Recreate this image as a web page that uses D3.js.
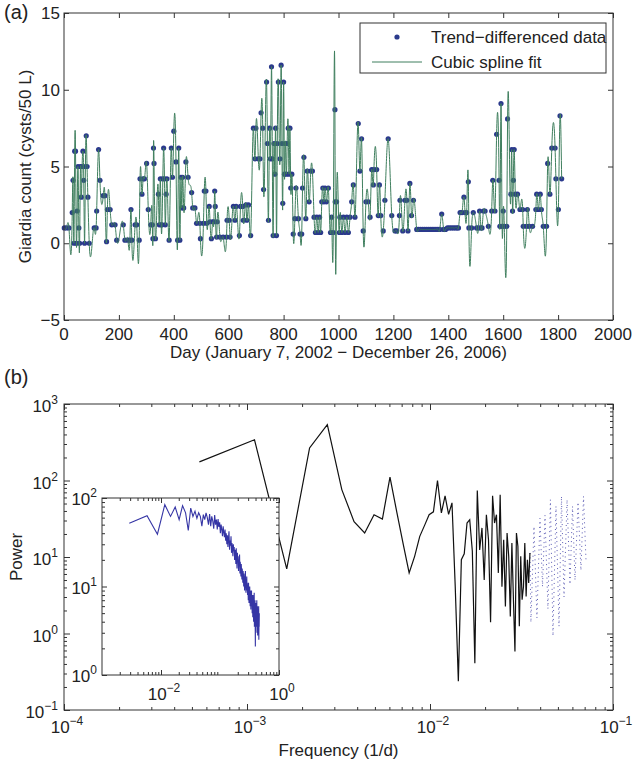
<!DOCTYPE html>
<html lang="en">
  <head>
    <meta charset="utf-8" />
    <title>Giardia count and periodogram</title>
    <script type="text/javascript" src="https://d3js.org/d3.v7.min.js"></script>
    <style>
      body { margin: 0; background: #fff; }
      text { font-family: "Liberation Sans", Arial, Helvetica, sans-serif; fill: #222; }
    </style>
  </head>
  <body>
    <div id="graph"></div>

    <script type="text/javascript">
      /***************
       * data
       ***************/

      // panel (a): trend-differenced Giardia counts (day, cysts/50 L)
      const days = [
        1, 9, 18, 30, 33, 36, 39, 42, 45, 48,
        51, 54, 57, 60, 63, 66, 69, 72, 75, 78,
        81, 84, 87, 92, 110, 117, 119, 126, 131, 143,
        149, 155, 158, 168, 174, 186, 192, 216, 222, 233,
        240, 244, 247, 259, 265, 274, 277, 284, 288, 293,
        301, 307, 316, 322, 324, 326, 328, 333, 344, 347,
        351, 354, 357, 360, 363, 366, 369, 372, 375, 383,
        391, 395, 400, 408, 414, 418, 422, 426, 429, 432,
        436, 444, 452, 465, 469, 477, 483, 495, 497, 508,
        511, 517, 520, 529, 532, 537, 542, 546, 549, 551,
        556, 558, 568, 580, 592, 594, 602, 605, 617, 623,
        627, 639, 643, 651, 653, 663, 666, 672, 680, 690,
        696, 699, 708, 714, 718, 724, 727, 738, 741, 745,
        749, 752, 756, 759, 762, 765, 768, 771, 774, 777,
        781, 787, 791, 794, 797, 800, 803, 806, 810, 813,
        817, 820, 823, 826, 830, 835, 841, 845, 854, 860,
        866, 869, 874, 881, 886, 893, 899, 905, 911, 916,
        921, 926, 931, 935, 939, 943, 947, 951, 956, 963,
        971, 975, 981, 987, 988, 993, 1003, 1005, 1012, 1018,
        1024, 1030, 1036, 1042, 1048, 1054, 1060, 1072, 1078, 1084,
        1090, 1100, 1109, 1115, 1121, 1127, 1129, 1139, 1145, 1149,
        1154, 1163, 1169, 1181, 1194, 1206, 1212, 1222, 1224, 1234,
        1242, 1249, 1253, 1260, 1266, 1273, 1285, 1292, 1299, 1306,
        1313, 1320, 1327, 1334, 1341, 1348, 1355, 1362, 1369, 1376,
        1383, 1390, 1397, 1404, 1411, 1418, 1425, 1432, 1437, 1443,
        1450, 1457, 1461, 1467, 1473, 1475, 1485, 1491, 1503, 1510,
        1514, 1519, 1523, 1528, 1534, 1546, 1558, 1562, 1570, 1576,
        1585, 1588, 1592, 1596, 1600, 1604, 1613, 1616, 1628, 1631,
        1634, 1637, 1640, 1644, 1652, 1661, 1671, 1673, 1685, 1688,
        1695, 1707, 1719, 1722, 1728, 1735, 1739, 1746, 1758, 1762,
        1770, 1777, 1789, 1792, 1801, 1807, 1813
      ];
      const counts = [
        1.0, 1.0, 1.0, 2.0, 4.1, 0.0, 6.0, 6.0, 0.0, 2.1,
        5.0, 1.0, 0.0, 5.0, 3.0, 5.0, 6.0, 4.1, 0.0, 5.0,
        7.0, 5.0, 3.0, 0.0, 1.0, 1.0, 2.1, 6.1, 4.1, 3.1,
        3.1, 0.1, 2.2, 2.2, 1.2, 1.2, 0.2, 1.2, 0.2, 0.2,
        0.2, 2.2, 0.2, 1.2, 1.2, 0.2, 4.2, 3.2, 4.2, 4.2,
        5.2, 2.2, 1.2, 1.2, 0.3, 6.2, 5.2, 0.3, 3.2, 1.2,
        4.2, 1.2, 1.2, 4.2, 6.2, 4.2, 1.2, 3.2, 4.2, 0.2,
        6.2, 4.3, 7.3, 5.3, 0.2, 6.2, 0.2, 4.3, 2.3, 4.3,
        2.3, 5.3, 4.3, 3.3, 2.3, 2.3, 1.3, 1.3, 0.3, 1.3,
        3.4, 3.4, 1.3, 2.4, 1.4, 0.3, 1.4, 1.4, 3.4, 2.4,
        0.4, 1.4, 0.4, 0.4, 0.4, 1.5, 1.5, 0.4, 2.4, 1.5,
        2.4, 0.5, 2.4, 2.4, 1.5, 2.5, 1.5, 2.5, 0.5, 7.5,
        5.5, 7.5, 5.5, 5.5, 8.5, 7.5, 3.5, 10.5, 6.5, 1.5,
        7.5, 5.5, 11.5, 5.5, 0.5, 6.5, 4.5, 7.5, 0.5, 6.5,
        10.5, 5.5, 11.6, 6.5, 2.6, 10.5, 4.5, 6.5, 4.5, 6.5,
        7.5, 4.5, 7.5, 3.6, 4.5, 0.6, 1.6, 3.6, 1.6, 0.6,
        0.6, 3.6, 5.6, 1.6, 4.7, 2.7, 4.7, 4.7, 1.7, 0.7,
        1.7, 0.7, 1.7, 0.7, 2.7, 3.6, 2.7, 3.6, 2.7, 3.6,
        0.7, 1.7, 0.7, 8.7, 2.7, 2.7, 0.7, 1.7, 0.7, 1.7,
        0.7, 1.7, 0.7, 1.7, 2.7, 3.8, 1.7, 7.8, 4.7, 6.8,
        0.8, 2.7, 2.7, 1.7, 4.8, 3.8, 4.8, 4.8, 1.8, 3.8,
        1.8, 0.8, 2.8, 6.8, 1.8, 0.8, 0.8, 1.8, 2.8, 0.8,
        2.8, 2.8, 0.8, 3.9, 1.8, 2.8, 0.9, 0.9, 0.9, 0.9,
        0.9, 0.9, 0.9, 0.9, 0.9, 0.9, 0.9, 0.9, 0.9, 1.9,
        0.9, 0.9, 1.0, 1.0, 1.0, 1.0, 1.0, 1.0, 1.0, 2.0,
        2.0, 3.0, 2.0, 2.0, 4.0, 1.0, 1.0, 2.0, 1.0, 1.0,
        2.1, 1.0, 1.0, 2.1, 2.1, 1.1, 2.1, 4.1, 2.1, 7.1,
        4.1, 1.1, 9.1, 1.1, 2.1, 1.1, 1.1, 8.1, 3.2, 6.1,
        2.1, 4.1, 6.1, 3.2, 3.2, 2.2, 2.2, 1.1, 1.1, 2.2,
        1.1, 1.1, 2.2, 3.2, 2.2, 3.2, 2.2, 1.1, 1.1, 5.2,
        3.2, 6.2, 6.2, 4.2, 2.2, 8.3, 4.2
      ];
      const dayTicks = [0, 200, 400, 600, 800, 1000, 1200, 1400, 1600, 1800, 2000];
      const countTicks = [-5, 0, 5, 10, 15];
      const legendLabels = ["Trend\u2212differenced data", "Cubic spline fit"];

      // panel (b): periodogram, frequency k / recordDays
      const recordDays = 1820;
      // k = 1 .. 64 (solid black)
      const powerLow = [
        175, 341, 7.0, 266, 537, 76, 29, 20.6, 35.7, 31.4,
        111, 38, 14.6, 6.2, 10.2, 18.6, 25.9, 35.7, 39, 100,
        37.6, 63, 36, 51, 4.1, 0.237, 9.2, 11, 27.8, 30.7,
        12, 0.41, 74, 12.4, 24, 5.0, 35.7, 16.8, 1.4, 63,
        27.8, 35.7, 6.2, 65, 4.1, 16.8, 2.26, 20.6, 10.2, 1.67,
        15.2, 2.77, 0.58, 20.6, 13.8, 1.24, 10.2, 2.77, 4.1, 15.2,
        3.05, 9.2, 4.57, 11.3
      ];
      // high-frequency tail (dotted blue), frequencies
      const highFreq = [
        0.0352, 0.0356, 0.0370, 0.0384, 0.0399, 0.0412, 0.0425, 0.0441, 0.0455, 0.0470,
        0.0488, 0.0507, 0.0523, 0.0540, 0.0561, 0.0582, 0.0601, 0.0620, 0.0644, 0.0668,
        0.0690, 0.0712
      ];
      const powerHigh = [
        11.3, 1.4, 25, 1.6, 32, 4.1, 35, 2.1, 56, 0.93,
        46, 1.24, 62, 3, 56, 4.4, 46, 5, 52, 6.7,
        62, 9
      ];
      const powerExpX = [-4, -3, -2, -1];
      const powerExpY = [-1, 0, 1, 2, 3];

      // inset: spectrum, frequency k * insetStep
      const insetStep = 0.0029;
      const insetPower = [
        52, 63, 39, 84, 62, 79, 57, 82, 68, 43, 77, 62, 71, 59, 68, 62, 48, 65, 57, 68,
        60, 50, 66, 48, 62, 55, 45, 64, 50, 57, 44, 58, 47, 53, 40, 50, 44, 37, 48, 41,
        36, 44, 33, 40, 30, 38, 28, 35, 42, 26, 33, 29, 37, 24, 31, 27, 22, 30, 25, 28,
        20, 26, 23, 18, 27, 21, 16, 24, 19, 22, 15, 20, 17, 23, 14, 19, 16, 13, 18, 15,
        12, 16, 14, 11, 15, 13, 10, 14, 12, 9, 13, 11, 15, 10, 8.5, 12, 10, 13, 9, 11,
        8, 10.5, 9, 7, 11, 8.5, 6.5, 9.5, 8, 10, 7, 6, 9, 7.5, 5.5, 8.5, 7, 9, 6, 8,
        5, 7.5, 6.5, 4.5, 8, 6, 7, 4, 6.5, 5.5, 8.5, 3.5, 6, 5, 7, 4.5, 2.1, 5.5, 6.5, 4,
        5.5, 3.5, 6, 4.5, 7, 3, 5, 4, 6, 2.8, 4.5, 5.5, 3.5, 5, 4, 6, 2.5, 4.5, 3.5, 5
      ];
      const insetExpXLabels = [-2, 0];
      const insetExpY = [0, 1, 2];

      /***************************
       * create svg
       **************************/

      const width = 635;
      const height = 763;
      const fontSize = 17;
      const axisColor = "#333";

      const svg = d3
        .select("div#graph")
        .append("svg")
        .attr("width", width)
        .attr("height", height);

      // log minor tick values between two decades
      function minorTicks(e0, e1) {
        const out = [];
        for (let e = e0; e < e1; e++) {
          for (let m = 2; m <= 9; m++) out.push(m * Math.pow(10, e));
        }
        return out;
      }

      // inward ticks on all four sides of a box
      function boxTicks(g, x, y, xVals, yVals, len, box) {
        const bottom = d3.axisBottom(x).tickValues(xVals).tickFormat("").tickSizeInner(-len).tickSizeOuter(0);
        const top = d3.axisTop(x).tickValues(xVals).tickFormat("").tickSizeInner(-len).tickSizeOuter(0);
        const left = d3.axisLeft(y).tickValues(yVals).tickFormat("").tickSizeInner(-len).tickSizeOuter(0);
        const right = d3.axisRight(y).tickValues(yVals).tickFormat("").tickSizeInner(-len).tickSizeOuter(0);
        [[bottom, `translate(0,${box.bottom})`], [top, `translate(0,${box.top})`],
         [left, `translate(${box.left},0)`], [right, `translate(${box.right},0)`]].forEach(([a, t]) => {
          g.append("g").attr("transform", t).call(a)
            .call(s => s.select(".domain").remove())
            .call(s => s.selectAll("line").attr("stroke", axisColor));
        });
      }

      // "10" with a superscript exponent
      function powText(sel, exp) {
        sel.append("tspan").text("10");
        sel.append("tspan").attr("dy", -8).attr("font-size", 12)
          .text(exp < 0 ? "\u2212" + (-exp) : exp);
      }

      // natural cubic spline through (xs, ys), returns an evaluator
      function cubicSpline(xs, ys) {
        const n = xs.length;
        const h = [], alpha = [];
        const l = new Array(n).fill(0), mu = new Array(n).fill(0), z = new Array(n).fill(0);
        const c = new Array(n).fill(0), b = new Array(n).fill(0), d = new Array(n).fill(0);
        for (let i = 0; i < n - 1; i++) h[i] = xs[i + 1] - xs[i];
        for (let i = 1; i < n - 1; i++) {
          alpha[i] = (3 / h[i]) * (ys[i + 1] - ys[i]) - (3 / h[i - 1]) * (ys[i] - ys[i - 1]);
        }
        l[0] = 1;
        for (let i = 1; i < n - 1; i++) {
          l[i] = 2 * (xs[i + 1] - xs[i - 1]) - h[i - 1] * mu[i - 1];
          mu[i] = h[i] / l[i];
          z[i] = (alpha[i] - h[i - 1] * z[i - 1]) / l[i];
        }
        for (let j = n - 2; j >= 0; j--) {
          c[j] = z[j] - mu[j] * c[j + 1];
          b[j] = (ys[j + 1] - ys[j]) / h[j] - (h[j] * (c[j + 1] + 2 * c[j])) / 3;
          d[j] = (c[j + 1] - c[j]) / (3 * h[j]);
        }
        const find = d3.bisector(v => v).right;
        return t => {
          const j = Math.max(0, Math.min(n - 2, find(xs, t) - 1));
          const dx = t - xs[j];
          return ys[j] + b[j] * dx + c[j] * dx * dx + d[j] * dx * dx * dx;
        };
      }

      /********************
       * panel (a)
       ********************/

      const boxA = { left: 64, right: 613, top: 13, bottom: 320 };
      const xA = d3.scaleLinear().domain([0, 2000]).range([boxA.left, boxA.right]);
      const yA = d3.scaleLinear().domain([-5, 15]).range([boxA.bottom, boxA.top]);

      const gA = svg.append("g");

      const samples = days.map((d, i) => [d, counts[i]]);
      const dotColor = "#2b3a8c";
      const splineColor = "#3f7f5e";

      gA.selectAll("circle.pt")
        .data(samples)
        .enter()
        .append("circle")
        .attr("class", "pt")
        .attr("cx", d => xA(d[0]))
        .attr("cy", d => yA(d[1]))
        .attr("r", 2.6)
        .attr("fill", dotColor);

      const spline = cubicSpline(days, counts);
      const fit = d3.range(days[0], days[days.length - 1] + 0.01, 0.5).map(t => [t, spline(t)]);

      gA.append("path")
        .datum(fit)
        .attr("d", d3.line().x(d => xA(d[0])).y(d => yA(d[1])))
        .attr("fill", "none")
        .attr("stroke", splineColor)
        .attr("stroke-width", 1);

      boxTicks(gA, xA, yA, dayTicks, countTicks, 5, boxA);

      gA.append("rect")
        .attr("x", boxA.left).attr("y", boxA.top)
        .attr("width", boxA.right - boxA.left).attr("height", boxA.bottom - boxA.top)
        .attr("fill", "none").attr("stroke", axisColor);

      gA.selectAll("text.xt")
        .data(dayTicks)
        .enter()
        .append("text")
        .attr("x", d => xA(d))
        .attr("y", boxA.bottom + 20)
        .attr("text-anchor", "middle")
        .attr("font-size", fontSize)
        .text(d => d);

      gA.selectAll("text.yt")
        .data(countTicks)
        .enter()
        .append("text")
        .attr("x", boxA.left - 4)
        .attr("y", d => yA(d) + 6)
        .attr("text-anchor", "end")
        .attr("font-size", fontSize)
        .text(d => (d < 0 ? "\u2212" + (-d) : d));

      gA.append("text")
        .attr("x", (boxA.left + boxA.right) / 2)
        .attr("y", 358)
        .attr("text-anchor", "middle")
        .attr("font-size", fontSize)
        .text("Day (January 7, 2002 \u2212 December 26, 2006)");

      gA.append("text")
        .attr("transform", `translate(31,${(boxA.top + boxA.bottom) / 2}) rotate(-90)`)
        .attr("text-anchor", "middle")
        .attr("font-size", fontSize)
        .text("Giardia count (cysts/50 L)");

      gA.append("text").attr("x", 4).attr("y", 19).attr("font-size", 20).text("(a)");

      // legend
      const lg = gA.append("g");
      lg.append("rect")
        .attr("x", 360).attr("y", 23).attr("width", 246).attr("height", 50)
        .attr("fill", "#fff").attr("stroke", axisColor);
      lg.append("circle").attr("cx", 397).attr("cy", 37).attr("r", 2.6).attr("fill", dotColor);
      lg.append("line").attr("x1", 372).attr("x2", 422).attr("y1", 62).attr("y2", 62)
        .attr("stroke", splineColor).attr("stroke-width", 1);
      lg.selectAll("text")
        .data(legendLabels)
        .enter()
        .append("text")
        .attr("x", 431)
        .attr("y", (d, i) => 43 + i * 25)
        .attr("font-size", fontSize)
        .text(d => d);

      /********************
       * panel (b)
       ********************/

      const boxB = { left: 64, right: 613, top: 404, bottom: 710 };
      const xB = d3.scaleLog().domain([1e-4, 1e-1]).range([boxB.left, boxB.right]);
      const yB = d3.scaleLog().domain([1e-1, 1e3]).range([boxB.bottom, boxB.top]);

      const gB = svg.append("g");

      const lineB = d3.line().x(d => xB(d[0])).y(d => yB(d[1]));
      const lowPts = powerLow.map((p, i) => [(i + 1) / recordDays, p]);
      const highPts = powerHigh.map((p, i) => [highFreq[i], p]);

      gB.append("path").datum(highPts).attr("d", lineB)
        .attr("fill", "none").attr("stroke", "#5a5ab4").attr("stroke-width", 1)
        .attr("stroke-dasharray", "1 3.5");
      gB.append("path").datum(lowPts).attr("d", lineB)
        .attr("fill", "none").attr("stroke", "#111").attr("stroke-width", 1.2);

      boxTicks(gB, xB, yB, powerExpX.map(e => Math.pow(10, e)), powerExpY.map(e => Math.pow(10, e)), 6, boxB);
      boxTicks(gB, xB, yB, minorTicks(-4, -1), minorTicks(-1, 3), 3, boxB);

      gB.append("rect")
        .attr("x", boxB.left).attr("y", boxB.top)
        .attr("width", boxB.right - boxB.left).attr("height", boxB.bottom - boxB.top)
        .attr("fill", "none").attr("stroke", axisColor);

      gB.selectAll("text.xt")
        .data(powerExpX)
        .enter()
        .append("text")
        .attr("x", d => xB(Math.pow(10, d)) + 3)
        .attr("y", boxB.bottom + 23)
        .attr("text-anchor", "middle")
        .attr("font-size", fontSize)
        .each(function (d) { powText(d3.select(this), d); });

      gB.selectAll("text.yt")
        .data(powerExpY)
        .enter()
        .append("text")
        .attr("x", boxB.left - 6)
        .attr("y", d => yB(Math.pow(10, d)) + 8)
        .attr("text-anchor", "end")
        .attr("font-size", fontSize)
        .each(function (d) { powText(d3.select(this), d); });

      gB.append("text")
        .attr("x", (boxB.left + boxB.right) / 2)
        .attr("y", 756)
        .attr("text-anchor", "middle")
        .attr("font-size", fontSize)
        .text("Frequency (1/d)");

      gB.append("text")
        .attr("transform", `translate(22,${(boxB.top + boxB.bottom) / 2}) rotate(-90)`)
        .attr("text-anchor", "middle")
        .attr("font-size", fontSize)
        .text("Power");

      gB.append("text").attr("x", 4).attr("y", 384).attr("font-size", 20).text("(b)");

      /********************
       * inset
       ********************/

      const boxI = { left: 102, right: 279, top: 498, bottom: 675 };
      const xI = d3.scaleLog().domain([1e-3, 1]).range([boxI.left, boxI.right]);
      const yI = d3.scaleLog().domain([1, 100]).range([boxI.bottom, boxI.top]);

      const gI = svg.append("g");
      gI.append("rect")
        .attr("x", boxI.left).attr("y", boxI.top)
        .attr("width", boxI.right - boxI.left).attr("height", boxI.bottom - boxI.top)
        .attr("fill", "#fff");

      const insetPts = insetPower.map((p, i) => [(i + 1) * insetStep, p]);
      gI.append("path").datum(insetPts)
        .attr("d", d3.line().x(d => xI(d[0])).y(d => yI(d[1])))
        .attr("fill", "none").attr("stroke", "#3535a5").attr("stroke-width", 1.1);

      boxTicks(gI, xI, yI, insetExpXLabels.map(e => Math.pow(10, e)), insetExpY.map(e => Math.pow(10, e)), 5, boxI);
      boxTicks(gI, xI, yI, minorTicks(-3, 0), minorTicks(0, 2), 3, boxI);

      gI.append("rect")
        .attr("x", boxI.left).attr("y", boxI.top)
        .attr("width", boxI.right - boxI.left).attr("height", boxI.bottom - boxI.top)
        .attr("fill", "none").attr("stroke", axisColor);

      gI.selectAll("text.xt")
        .data(insetExpXLabels)
        .enter()
        .append("text")
        .attr("x", d => xI(Math.pow(10, d)) + 3)
        .attr("y", boxI.bottom + 25)
        .attr("text-anchor", "middle")
        .attr("font-size", fontSize)
        .each(function (d) { powText(d3.select(this), d); });

      gI.selectAll("text.yt")
        .data(insetExpY)
        .enter()
        .append("text")
        .attr("x", boxI.left - 5)
        .attr("y", d => yI(Math.pow(10, d)) + 7)
        .attr("text-anchor", "end")
        .attr("font-size", fontSize)
        .each(function (d) { powText(d3.select(this), d); });
    </script>
  </body>
</html>
